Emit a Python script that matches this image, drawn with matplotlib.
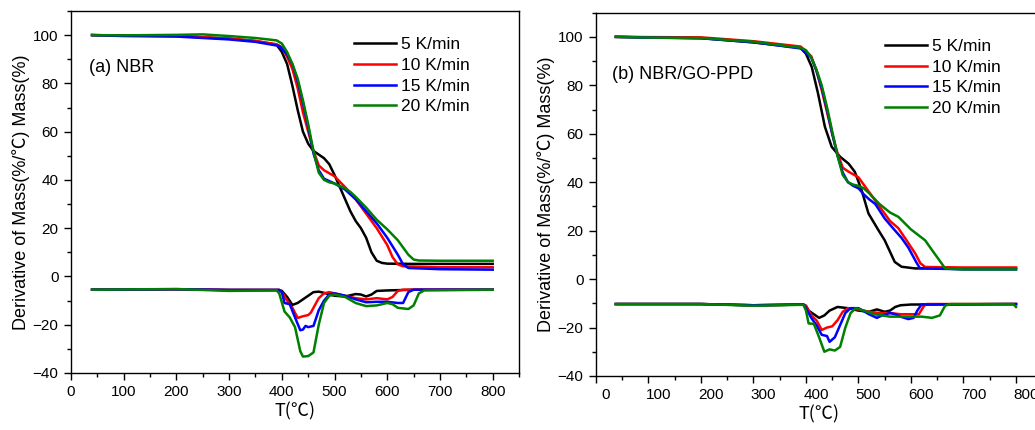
import matplotlib
matplotlib.use("Agg")
import matplotlib.pyplot as plt
import matplotlib.transforms as mtransforms
from matplotlib.ticker import MultipleLocator

plt.rcParams["font.family"] = ["Liberation Sans", "Noto Sans CJK SC", "DejaVu Sans"]

rates = ["5 K/min", "10 K/min", "15 K/min", "20 K/min"]
colors = ["black", "red", "blue", "#008000"]

# ---- (a) NBR : mass curves ----
a_tg_black_T = [40, 100, 200, 300, 350, 390, 400, 410, 420, 430, 440, 450, 460, 470, 480, 490, 500, 510, 520, 530, 540, 550, 560, 570, 580, 590, 600, 650, 700, 800]
a_tg_black_M = [100, 99.8, 99.6, 98.5, 97.5, 96, 93, 88, 79, 69, 60, 55, 52, 50.5, 49, 46.5, 42, 37, 32, 27, 23, 20, 16, 10, 6.5, 5.6, 5.3, 5.2, 5.2, 5.2]
a_tg_red_T = [40, 100, 200, 300, 350, 390, 400, 410, 420, 430, 440, 450, 460, 470, 480, 500, 520, 540, 560, 580, 600, 610, 620, 630, 700, 800]
a_tg_red_M = [100, 99.8, 99.7, 98.6, 97.6, 96.2, 95, 91, 86, 78, 68, 60, 52, 46, 44, 41.5, 37, 32, 26, 20, 13, 8, 5, 4.2, 3.8, 3.8]
a_tg_blue_T = [40, 100, 200, 300, 350, 395, 410, 420, 430, 440, 450, 460, 470, 480, 490, 500, 520, 540, 560, 580, 600, 620, 630, 640, 700, 800]
a_tg_blue_M = [100, 99.6, 99.4, 98.2, 97.2, 95.5, 92, 88, 81, 72, 62, 51, 44, 40.5, 39.5, 38.5, 36, 32, 27, 22, 16, 9, 5, 3.5, 3.0, 2.8]
a_tg_green_T = [40, 100, 200, 250, 300, 350, 390, 400, 410, 420, 430, 440, 450, 460, 470, 480, 490, 500, 510, 520, 530, 540, 560, 580, 600, 620, 640, 650, 660, 700, 800]
a_tg_green_M = [100, 99.9, 100.1, 100.3, 99.6, 98.8, 97.8, 96.5, 93, 88, 82, 73, 63, 52, 43, 40, 39, 38.5, 37.5, 36.5, 35, 33, 28.5, 23.5, 19.5, 15, 9, 7, 6.6, 6.5, 6.5]

# ---- (a) NBR : derivative curves ----
a_dtg_black_T = [40, 200, 300, 395, 400, 410, 420, 430, 440, 450, 460, 470, 480, 500, 520, 540, 550, 560, 570, 580, 600, 650, 800]
a_dtg_black_D = [-5.5, -5.3, -5.6, -5.6, -6, -8.5, -11.8, -11, -9.5, -8, -6.5, -6.3, -6.8, -8, -8.3, -7.3, -7.5, -8.3, -7.5, -6, -5.8, -5.5, -5.5]
a_dtg_red_T = [40, 200, 300, 395, 400, 410, 420, 430, 440, 450, 455, 465, 470, 480, 490, 500, 520, 540, 560, 580, 600, 610, 620, 630, 800]
a_dtg_red_D = [-5.5, -5.3, -5.6, -5.6, -6.5, -10, -13, -17.2, -16.5, -16, -15, -11, -9, -7, -6.5, -7, -8, -9, -9.5, -9, -9.5, -8.5, -6, -5.5, -5.5]
a_dtg_blue_T = [40, 200, 300, 395, 400, 405, 415, 425, 435, 440, 445, 450, 460, 470, 480, 490, 500, 520, 540, 560, 580, 600, 620, 630, 640, 650, 800]
a_dtg_blue_D = [-5.5, -5.3, -5.6, -5.6, -6.5, -11, -11.5, -17, -22.3, -22, -20.5, -21, -20.5, -14, -10, -7.5, -7, -8, -9.5, -10.7, -10.5, -10.5, -11, -11, -6.5, -5.5, -5.5]
a_dtg_green_T = [40, 200, 300, 390, 395, 405, 415, 425, 435, 440, 450, 460, 470, 480, 490, 500, 520, 540, 560, 580, 600, 610, 620, 640, 650, 660, 670, 800]
a_dtg_green_D = [-5.5, -5.2, -6.0, -5.8, -7, -14.5, -17, -21, -31, -33.2, -33, -31.5, -20, -11, -8, -7.5, -8.5, -11, -12.3, -12, -11, -11.5, -13, -13.5, -12, -7, -5.8, -5.5]

# ---- (b) NBR/GO-PPD : mass curves ----
b_tg_black_T = [38, 100, 200, 300, 390, 400, 411, 423, 436, 449, 465, 481, 493, 506, 519, 538, 550, 569, 582, 608, 700, 800]
b_tg_black_M = [100, 99.8, 99.5, 97.7, 95.5, 93, 87.6, 76.6, 62.9, 54.6, 50.5, 47.7, 44.3, 36.7, 27.1, 20.2, 16, 7.1, 5.1, 4.4, 4.5, 4.5]
b_tg_red_T = [38, 100, 200, 300, 390, 410, 420, 430, 440, 450, 460, 470, 480, 500, 520, 540, 560, 576, 590, 608, 618, 627, 700, 800]
b_tg_red_M = [100, 99.9, 99.8, 98.2, 96, 92, 86, 78, 69, 60, 52, 46, 44.5, 42, 36, 30, 24, 21, 16.5, 10.6, 6.5, 5.0, 4.8, 4.8]
b_tg_blue_T = [38, 100, 200, 300, 390, 410, 420, 430, 440, 450, 460, 470, 480, 490, 500, 510, 520, 532, 550, 569, 582, 595, 610, 617, 700, 800]
b_tg_blue_M = [100, 99.7, 99.4, 97.8, 95.2, 91.5, 86, 79, 70, 60, 51, 44, 40, 38.5, 37.5, 35, 33, 31, 25, 20.2, 17, 13, 7, 4.5, 4, 4]
b_tg_green_T = [38, 100, 200, 300, 390, 400, 410, 420, 430, 440, 450, 460, 470, 480, 490, 500, 510, 520, 540, 560, 576, 600, 627, 640, 655, 665, 700, 800]
b_tg_green_M = [100, 99.7, 99.5, 98.0, 95.5, 94.5, 91.5, 86.5, 80, 71, 61, 51, 43, 40, 39, 38.5, 37.5, 35.5, 31, 27.5, 25.7, 20.5, 16, 12, 7.5, 4.4, 4, 4]

# ---- (b) NBR/GO-PPD : derivative curves ----
b_dtg_black_T = [38, 200, 300, 395, 400, 405, 415, 425, 435, 445, 460, 480, 500, 520, 535, 550, 560, 570, 580, 600, 800]
b_dtg_black_D = [-10.3, -10.3, -10.8, -10.5, -11, -13, -14.5, -16, -15, -13, -11.5, -12, -13, -13.5, -12.5, -13.5, -13, -11.5, -10.8, -10.5, -10.3]
b_dtg_red_T = [38, 200, 300, 395, 400, 410, 420, 430, 440, 450, 460, 470, 480, 500, 520, 540, 560, 580, 600, 615, 625, 630, 800]
b_dtg_red_D = [-10.3, -10.3, -10.8, -10.5, -11, -15, -17, -21, -20, -19.5, -17, -13.5, -12, -12.5, -13.5, -14, -14, -14.5, -14.5, -14.5, -11, -10.3, -10.3]
b_dtg_blue_T = [38, 200, 300, 395, 400, 410, 420, 430, 440, 445, 455, 465, 475, 485, 500, 520, 535, 545, 560, 570, 580, 595, 605, 612, 620, 800]
b_dtg_blue_D = [-10.3, -10.3, -10.8, -10.5, -12, -16, -19, -23, -23.5, -25.9, -24, -19, -14, -12, -12, -14.5, -16, -15, -14, -14.5, -15.5, -16.5, -16, -13, -10.5, -10.3]
b_dtg_green_T = [38, 200, 300, 395, 400, 405, 415, 425, 435, 445, 455, 465, 475, 485, 495, 510, 530, 560, 600, 620, 640, 655, 665, 675, 795, 800]
b_dtg_green_D = [-10.3, -10.3, -11.0, -10.6, -13, -18.3, -18.5, -24, -30, -29, -29.5, -28, -20, -14, -12, -13, -14.5, -15.5, -15.5, -15.5, -16, -15, -11, -10.3, -10.3, -11.5]

panels = [
    dict(rect=[0.0686, 0.1326, 0.4329, 0.8419], label="(a) NBR", shift=0,
         tg=[(a_tg_black_T, a_tg_black_M), (a_tg_red_T, a_tg_red_M),
             (a_tg_blue_T, a_tg_blue_M), (a_tg_green_T, a_tg_green_M)],
         dtg=[(a_dtg_black_T, a_dtg_black_D), (a_dtg_red_T, a_dtg_red_D),
              (a_dtg_blue_T, a_dtg_blue_D), (a_dtg_green_T, a_dtg_green_D)],
         leg=(0.632, 0.928), txt=(0.04, 0.845)),
    dict(rect=[0.5758, 0.1256, 0.4312, 0.845], label="(b) NBR/GO-PPD", shift=10,
         tg=[(b_tg_black_T, b_tg_black_M), (b_tg_red_T, b_tg_red_M),
             (b_tg_blue_T, b_tg_blue_M), (b_tg_green_T, b_tg_green_M)],
         dtg=[(b_dtg_black_T, b_dtg_black_D), (b_dtg_red_T, b_dtg_red_D),
              (b_dtg_blue_T, b_dtg_blue_D), (b_dtg_green_T, b_dtg_green_D)],
         leg=(0.648, 0.928), txt=(0.035, 0.83)),
]

fig = plt.figure(figsize=(10.35, 4.3), dpi=100)

for p in panels:
    ax = fig.add_axes(p["rect"])
    for (T, M), c, lab in zip(p["tg"], colors, rates):
        ax.plot(T, M, color=c, lw=1.8, label=lab)
    for (T, D), c in zip(p["dtg"], colors):
        ax.plot(T, D, color=c, lw=1.8)

    ax.set_xlim(0, 850)
    ax.set_ylim(-40, 110)
    ax.xaxis.set_major_locator(MultipleLocator(100))
    ax.xaxis.set_minor_locator(MultipleLocator(50))
    ax.set_yticks([-40, -20, 0, 20, 40, 60, 80, 100])
    ax.yaxis.set_minor_locator(MultipleLocator(10))
    ax.tick_params(which="major", direction="out", length=5, width=1, labelsize=11, pad=4)
    ax.tick_params(which="minor", direction="out", length=3, width=1)
    for s in ax.spines.values():
        s.set_linewidth(1)

    ax.set_xlabel("T(℃)", fontsize=13, labelpad=2, family=["Noto Sans CJK SC"])
    ax.set_ylabel("Derivative of Mass(%/℃) Mass(%)", fontsize=13, labelpad=2)

    ax.text(p["txt"][0], p["txt"][1], p["label"], transform=ax.transAxes,
            fontsize=13, va="center", ha="left")
    ax.legend(loc="upper left", bbox_to_anchor=p["leg"], frameon=False,
              fontsize=12.5, handlelength=2.4, handletextpad=0.3,
              labelspacing=0.32, borderaxespad=0, borderpad=0)

    # the right panel's x labels sit a bit right of their ticks
    if p["shift"]:
        off = mtransforms.ScaledTranslation(p["shift"] / 100, 0, fig.dpi_scale_trans)
        for lbl in ax.xaxis.get_majorticklabels():
            lbl.set_transform(lbl.get_transform() + off)

fig.savefig("out.png", dpi=100)
